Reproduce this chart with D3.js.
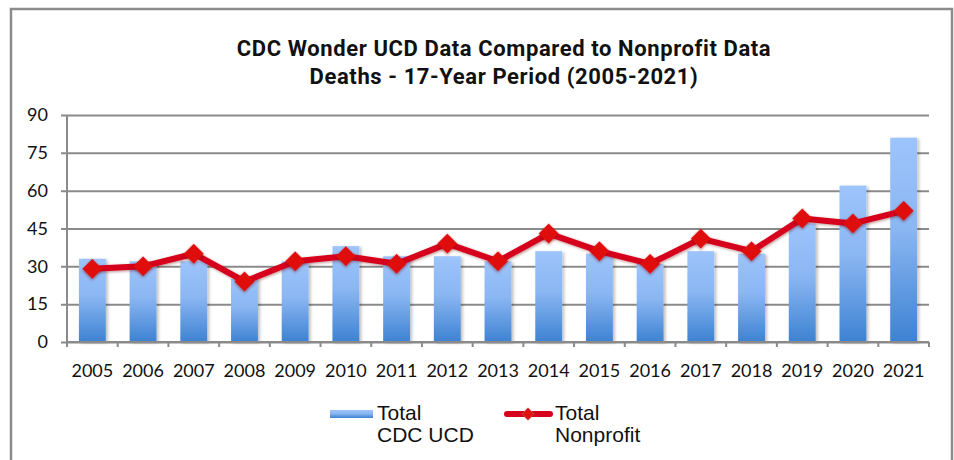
<!DOCTYPE html>
<html lang="en">
<head>
<meta charset="utf-8">
<title>CDC Wonder UCD vs Nonprofit</title>
<script src="https://d3js.org/d3.v7.min.js"></script>
<style>
  body { margin: 0; background: #fff; }
</style>
</head>
<body>
<script>
  // data
  var years = ["2005","2006","2007","2008","2009","2010","2011","2012","2013","2014","2015","2016","2017","2018","2019","2020","2021"];
  var cdcUcd = [33, 32, 32, 25, 32, 38, 34, 34, 32, 36, 35, 31, 36, 35, 47, 62, 81];
  var nonprofit = [29, 30, 35, 24, 32, 34, 31, 39, 32, 43, 36, 31, 41, 36, 49, 47, 52];
  var yTicks = [0, 15, 30, 45, 60, 75, 90];
  var titleLines = ["CDC Wonder UCD Data Compared to Nonprofit Data", "Deaths - 17-Year Period (2005-2021)"];

  var width = 954, height = 460;
  var plotLeft = 67, plotRight = 929, plotTop = 115, plotBottom = 342;

  var svg = d3.select("body").append("svg")
      .attr("width", width)
      .attr("height", height);

  var defs = svg.append("defs");
  var grad = defs.append("linearGradient")
      .attr("id", "barGrad")
      .attr("x1", 0).attr("y1", 0).attr("x2", 0).attr("y2", 1);
  grad.append("stop").attr("offset", "0%").attr("stop-color", "#9dc4fb");
  grad.append("stop").attr("offset", "45%").attr("stop-color", "#8ab6f2");
  grad.append("stop").attr("offset", "100%").attr("stop-color", "#3d82d2");

  var shadow = defs.append("filter").attr("id", "shadow")
      .attr("x", "-30%").attr("y", "-30%").attr("width", "160%").attr("height", "160%");
  shadow.append("feDropShadow")
      .attr("dx", 2).attr("dy", 1).attr("stdDeviation", 1.5)
      .attr("flood-color", "#000").attr("flood-opacity", 0.25);

  var glow = defs.append("filter").attr("id", "glow")
      .attr("x", "-50%").attr("y", "-50%").attr("width", "200%").attr("height", "200%");
  glow.append("feDropShadow")
      .attr("dx", 1).attr("dy", 1).attr("stdDeviation", 1.5)
      .attr("flood-color", "#600").attr("flood-opacity", 0.45);

  // frame
  svg.append("path")
      .attr("d", "M11," + height + "V9H952V" + height)
      .attr("fill", "none")
      .attr("stroke", "#8c8c8c")
      .attr("stroke-width", 2.5);

  // title
  svg.append("g").selectAll("text")
      .data(titleLines)
      .join("text")
      .attr("x", 504)
      .attr("y", function(d, i) { return 56 + i * 28; })
      .attr("text-anchor", "middle")
      .style("font-family", "Roboto")
      .style("font-weight", "bold")
      .style("font-size", "22px")
      .style("letter-spacing", "0.6px")
      .attr("fill", "#111")
      .text(function(d) { return d; });

  var x = d3.scaleBand().domain(years).range([plotLeft, plotRight]).padding(0);
  var xBar = d3.scaleBand().domain(years).range([plotLeft, plotRight]).paddingInner(0.47).paddingOuter(0.235);
  var y = d3.scaleLinear().domain([0, 90]).range([plotBottom, plotTop]);

  // grid + y ticks
  var yAxis = d3.axisLeft(y).tickValues(yTicks).tickSize(-(plotRight - plotLeft)).tickPadding(19);
  var gy = svg.append("g").attr("transform", "translate(" + plotLeft + ",0)").call(yAxis);
  gy.select(".domain").remove();
  gy.selectAll(".tick line")
      .attr("x1", -6)
      .attr("stroke", "#8a8a8a")
      .attr("stroke-width", 2);
  gy.selectAll(".tick text")
      .style("font-family", "Lato")
      .style("font-size", "18px")
      .attr("fill", "#111");

  // y axis line
  svg.append("line")
      .attr("x1", plotLeft).attr("x2", plotLeft)
      .attr("y1", plotTop).attr("y2", plotBottom + 5)
      .attr("stroke", "#8a8a8a").attr("stroke-width", 2);

  // bars
  svg.append("g").selectAll("rect")
      .data(cdcUcd)
      .join("rect")
      .attr("x", function(d, i) { return xBar(years[i]); })
      .attr("width", xBar.bandwidth())
      .attr("y", function(d) { return y(d); })
      .attr("height", function(d) { return y(0) - y(d); })
      .attr("fill", "url(#barGrad)")
      .attr("filter", "url(#shadow)");

  // x axis
  var xAxis = d3.axisBottom(x).tickSize(0).tickPadding(22);
  var gx = svg.append("g").attr("transform", "translate(0," + plotBottom + ")").call(xAxis);
  gx.select(".domain").attr("stroke", "#8a8a8a").attr("stroke-width", 2)
      .attr("d", "M" + plotLeft + ",0H" + plotRight);
  gx.selectAll(".tick text")
      .style("font-family", "Lato")
      .style("font-size", "18px")
      .attr("fill", "#111");
  gx.append("g").selectAll("line")
      .data(years.concat(["end"]))
      .join("line")
      .attr("x1", function(d, i) { return i < years.length ? x(d) : x.range()[1]; })
      .attr("x2", function(d, i) { return i < years.length ? x(d) : x.range()[1]; })
      .attr("y1", 0).attr("y2", 5)
      .attr("stroke", "#8a8a8a").attr("stroke-width", 2);

  // line series
  var line = d3.line()
      .x(function(d, i) { return x(years[i]) + x.bandwidth() / 2; })
      .y(function(d) { return y(d); });

  svg.append("path")
      .datum(nonprofit)
      .attr("d", line)
      .attr("fill", "none")
      .attr("stroke", "#d6001c")
      .attr("stroke-width", 6)
      .attr("stroke-linejoin", "round")
      .attr("filter", "url(#glow)");

  svg.append("g").selectAll("path")
      .data(nonprofit)
      .join("path")
      .attr("transform", function(d, i) {
        return "translate(" + (x(years[i]) + x.bandwidth() / 2) + "," + y(d) + ") rotate(45)";
      })
      .attr("d", d3.symbol().type(d3.symbolSquare).size(200))
      .attr("fill", "#e0100e")
      .attr("filter", "url(#glow)");

  // legend
  var legendFont = "21px";
  var lg = svg.append("g");
  lg.append("rect")
      .attr("x", 330).attr("y", 410).attr("width", 43).attr("height", 8)
      .attr("fill", "url(#barGrad)");
  lg.append("text").attr("x", 377).attr("y", 420)
      .style("font-family", "Liberation Sans").style("font-size", legendFont).attr("fill", "#111")
      .text("Total");
  lg.append("text").attr("x", 377).attr("y", 442)
      .style("font-family", "Liberation Sans").style("font-size", legendFont).attr("fill", "#111")
      .text("CDC UCD");

  lg.append("line")
      .attr("x1", 507).attr("x2", 550).attr("y1", 414).attr("y2", 414)
      .attr("stroke", "#d6001c").attr("stroke-width", 6).attr("stroke-linecap", "round");
  lg.append("path")
      .attr("transform", "translate(528,414) rotate(45)")
      .attr("d", d3.symbol().type(d3.symbolSquare).size(70))
      .attr("fill", "#e0100e")
      .attr("stroke", "#c84040").attr("stroke-width", 1);
  lg.append("text").attr("x", 555).attr("y", 420)
      .style("font-family", "Liberation Sans").style("font-size", legendFont).attr("fill", "#111")
      .text("Total");
  lg.append("text").attr("x", 555).attr("y", 442)
      .style("font-family", "Liberation Sans").style("font-size", legendFont).attr("fill", "#111")
      .text("Nonprofit");
</script>
</body>
</html>
